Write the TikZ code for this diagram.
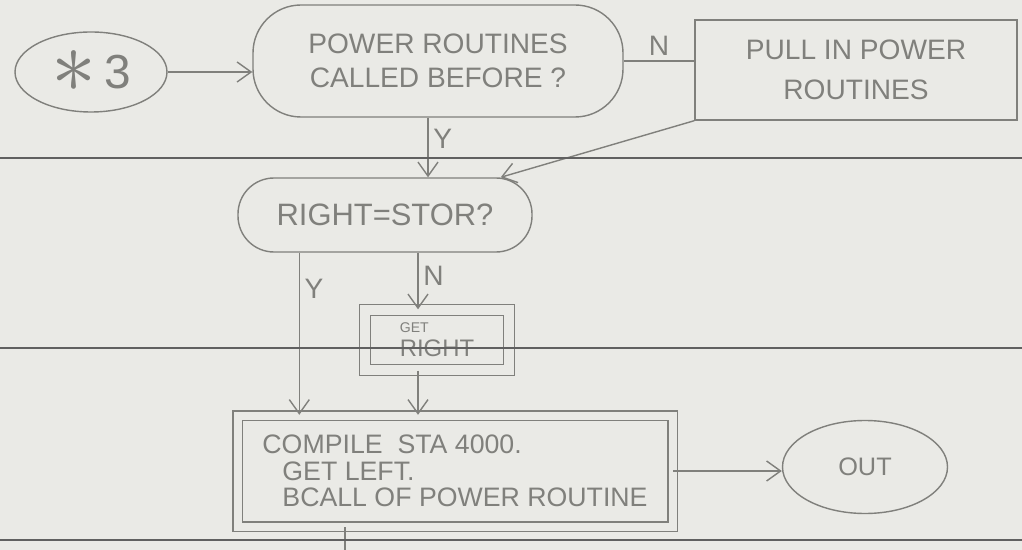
\documentclass[tikz,border=0pt]{standalone}
\usepackage{fontspec}
\setmainfont{Liberation Sans}
\newfontfamily\lmfont{lmroman10-regular.otf}
\usetikzlibrary{shapes.geometric,arrows.meta}
\definecolor{paper}{RGB}{234,234,230}
\definecolor{pencil}{RGB}{128,128,124}
\definecolor{ruling}{RGB}{96,96,96}
\newcommand{\pt}[1]{\fontsize{#1}{#1}\selectfont}

\begin{document}
\begin{tikzpicture}[>={Straight Barb[length=3.5mm,width=5mm]},
    pencil/.style={draw=pencil, line width=1pt, text=pencil},
    oval/.style={pencil, ellipse},
    query/.style={pencil, rounded corners=#1},
    dblbox/.style={pencil, double=paper, double distance=#1},
    flow/.style={draw=pencil, line width=1pt, ->},
    lbl/.style={text=pencil, font=\pt{20}}]
    \useasboundingbox (0,0) rectangle (25.55,-13.75);
    \fill [paper] (0,0) rectangle (25.55,-13.75);
    \node (star)  [oval, minimum width=3.8cm, minimum height=2cm, font=\pt{34}] at (2.275,-1.8) {\raisebox{-0.1em}{\lmfont\fontsize{64}{64}\selectfont ∗}\,3};
    \node (power) [query=1.2cm, minimum width=9.25cm, minimum height=2.8cm, font=\fontsize{20}{24}\selectfont, align=center] at (10.95,-1.525) {POWER ROUTINES\\ CALLED BEFORE ?};
    \node (pull)  [pencil, minimum width=8.05cm, minimum height=2.5cm, font=\fontsize{20}{28}\selectfont, align=center] at (21.4,-1.75) {PULL IN POWER\\ ROUTINES};
    \node (stor)  [query=0.9cm, minimum width=7.35cm, minimum height=1.85cm, font=\pt{22}] at (9.625,-5.375) {RIGHT=STOR?};
    \node (getright) [dblbox=0.25cm, minimum width=3.6cm, minimum height=1.5cm, font=\fontsize{17}{17}\selectfont, align=left] at (10.925,-8.5) {{\pt{10}GET}\\ RIGHT};
    \node (compile)  [dblbox=0.2cm, minimum width=10.875cm, minimum height=2.775cm, font=\fontsize{19}{19}\selectfont, align=left] at (11.375,-11.775) {COMPILE\ \ STA 4000.\\ \hspace*{0.5cm}GET LEFT.\\ \hspace*{0.5cm}BCALL OF POWER ROUTINE};
    \node (out)   [oval, minimum width=4.125cm, minimum height=2.325cm, font=\pt{18}] at (21.625,-11.675) {OUT};
    \coordinate (exit) at (0,-13.75);
    % attach points off the centre lines
    \coordinate (pY) at ([xshift=-0.25cm]power.south);
    \coordinate (sY) at ([xshift=1.55cm]stor.south west);
    \coordinate (gN) at ([xshift=-0.475cm]getright.north);
    \coordinate (gS) at ([xshift=-0.475cm]getright.south);
    \coordinate (cS) at ([xshift=2.7cm]compile.south west);
    % first test
    \draw [flow] (star.east) -- (star.east -| power.west);
    \draw [pencil] (power.east) -- node[lbl, above] {N} (power.east -| pull.west);
    \draw [flow] (pY) -- node[lbl, right, pos=0.35] {Y} (pY |- stor.north);
    \draw [flow] (pull.south west) -- ([xshift=-0.8cm]stor.north east);
    % second test
    \draw [flow] (sY) -- node[lbl, right, pos=0.22] {Y} (sY |- compile.north);
    \draw [flow] (gN |- stor.south) -- node[lbl, right, pos=0.4] {N} (gN);
    \draw [flow] (gS) -- (gS |- compile.north);
    \draw [flow] (compile.east) -- (compile.east -| out.west);
    \draw [pencil] (cS) -- (cS |- exit);
    % ruled paper
    \foreach \y in {-3.95,-8.7,-13.5}
        \draw [ruling, line width=1.1pt] (0,\y) -- (25.55,\y);
\end{tikzpicture}
\end{document}
